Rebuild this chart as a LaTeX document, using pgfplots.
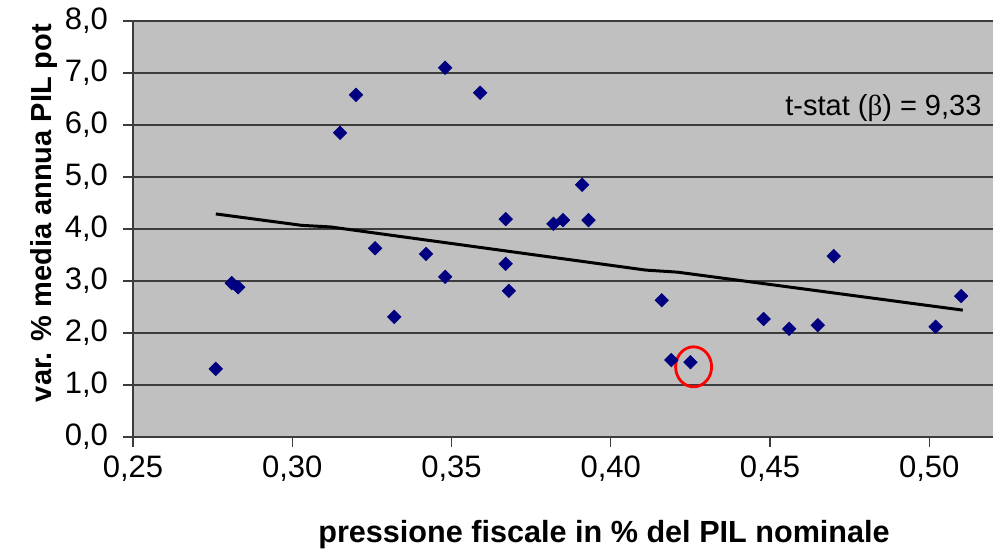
\documentclass[border=0pt]{standalone}
\usepackage{pgfplots}
\pgfplotsset{compat=1.18}
\usepackage{fontspec}
\setmainfont{Liberation Sans}
\newfontfamily\serifgreek{Liberation Serif}
\definecolor{bg}{RGB}{192,192,192}
\definecolor{navy}{RGB}{0,0,128}
\definecolor{gridc}{RGB}{60,60,60}
\begin{document}
\begin{tikzpicture}
\useasboundingbox (-66.5pt,-55.5pt) rectangle (431pt,218.5pt);
\begin{axis}[
  scale only axis,
  width=430pt, height=208pt,
  at={(0,0)}, anchor=south west,
  xmin=0.25, xmax=0.52, ymin=0, ymax=8,
  xtick={0.25,0.30,...,0.50},
  ytick={0,1,...,8},
  axis lines=left,
  axis line style={-, draw=gridc, line width=0.8pt},
  tick align=outside,
  major tick length=5pt,
  tick style={draw=gridc, line width=0.6pt},
  ymajorgrids,
  grid style={draw=gridc, line width=0.6pt},
  axis background/.style={fill=bg},
  /pgf/number format/assume math mode=true,
  xticklabel={\pgfmathprintnumber[use comma, fixed, fixed zerofill, precision=2]{\tick}},
  yticklabel={\pgfmathprintnumber[use comma, fixed, fixed zerofill, precision=1]{\tick}},
  x tick label style={yshift=-1pt},
  y tick label style={anchor=east, xshift=-4pt},
  ticklabel style={font=\fontsize{15.5}{18}\selectfont},
  xlabel={\bfseries pressione fiscale in \% del PIL nominale},
  ylabel={\bfseries var. \% media annua PIL pot},
  xlabel style={font=\fontsize{15.3}{18}\selectfont, at={(axis description cs:0.5,0)}, anchor=center, yshift=-49pt, xshift=20.5pt},
  ylabel style={font=\fontsize{14.5}{17}\selectfont, at={(axis description cs:0,0.5)}, anchor=center, yshift=44.5pt, xshift=8pt},
  clip=false,
]
\addplot[only marks, mark=square*, mark size=2.35pt, color=navy, mark options={fill=navy, rotate=45}] coordinates {
(0.276,1.31) (0.281,2.96) (0.283,2.88) (0.315,5.85) (0.320,6.58)
(0.326,3.63) (0.332,2.31) (0.342,3.52) (0.348,7.10) (0.348,3.08)
(0.359,6.62) (0.367,4.19) (0.367,3.33) (0.368,2.81) (0.382,4.10)
(0.385,4.17) (0.391,4.85) (0.393,4.17) (0.416,2.63) (0.419,1.48)
(0.425,1.44) (0.448,2.27) (0.456,2.08) (0.465,2.15) (0.470,3.48)
(0.502,2.12) (0.510,2.71)
};
\addplot[black, line width=1.5pt, no marks] coordinates {
(0.276,4.29) (0.303,4.07) (0.312,4.04) (0.411,3.21) (0.421,3.17) (0.5105,2.44)
};
\draw[red, line width=1.4pt] (axis cs:0.426,1.35) ellipse [x radius=9pt, y radius=10pt];
\node[anchor=east, font=\fontsize{14.5}{17}\selectfont, inner sep=0pt] at (axis cs:0.5165,6.32) {t-stat ({\serifgreek β}) = 9,33};
\end{axis}
\end{tikzpicture}
\end{document}
